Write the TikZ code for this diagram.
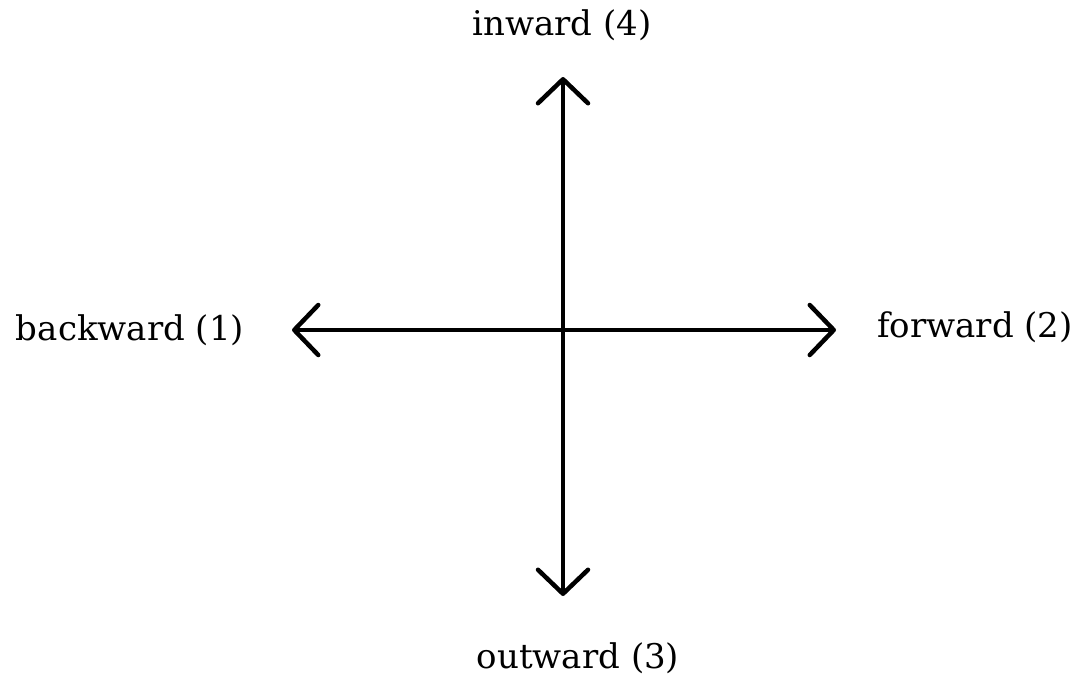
\documentclass[tikz,border=0pt]{standalone}
\usepackage{fontspec}
\setmainfont{DejaVu Serif}
\usetikzlibrary{arrows.meta}
\begin{document}
\begin{tikzpicture}[x=1pt,y=-1pt,
  axis/.style={line width=4.5pt,line cap=round,-{Straight Barb[length=24pt,width=50pt,line width=4.5pt,round]}},
  lbl/.style={inner sep=0pt,font=\fontsize{34}{40}\selectfont}]
\useasboundingbox (0,0) rectangle (1082,675);
\coordinate (c) at (563,330);
\coordinate (t) at (563,77);
\coordinate (b) at (563,596);
\coordinate (l) at (292,330);
\coordinate (r) at (836,330);
\draw[axis] (c) -- (t);
\draw[axis] (c) -- (b);
\draw[axis] (c) -- (l);
\draw[axis] (c) -- (r);
\node[lbl] (in) at (562,25) {inward (4)};
\node[lbl] (out) at (578,658) {outward (3)};
\node[lbl] (bk) at (130,330) {backward (1)};
\node[lbl] (fw) at (975,327) {forward (2)};
\end{tikzpicture}
\end{document}
